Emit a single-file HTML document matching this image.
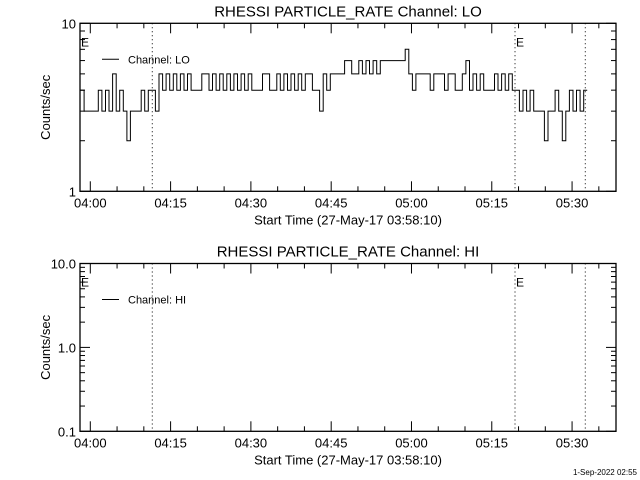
<!DOCTYPE html>
<html><head><meta charset="utf-8"><style>
html,body{margin:0;padding:0;background:#fff;}
svg{display:block;font-family:"Liberation Sans",sans-serif;}
</style></head><body>
<svg id="chart" width="640" height="480" viewBox="0 0 640 480" xmlns="http://www.w3.org/2000/svg">
<rect width="640" height="480" fill="#fff"/>
</svg>
<script>
// data: LO channel counts/sec, sampled every 40 s from start 03:58:10
const loValues = [4,3,3,3,3,4,3,4,3,5,3,4,3,2,3,3,3,4,3,4,4,3,5,4,5,4,5,4,5,4,5,4,4,4,5,5,4,5,4,5,4,5,4,5,4,5,4,5,4,4,4,5,5,4,4,5,4,5,4,5,4,5,4,5,5,4,4,3,5,4,5,5,5,5,6,6,5,5,6,5,6,5,6,5,6,6,6,6,6,6,6,7,5,4,5,5,5,5,4,5,5,5,4,5,5,4,4,5,6,4,5,4,5,4,4,4,5,4,5,4,5,4,4,3,4,3,4,3,3,3,2,3,3,4,3,2,3,4,3,4,3,4];
const sampleStepMin = 40/60;
const startMin = -1.8333; // minutes relative to 04:00
const xTickLabels = ["04:00","04:15","04:30","04:45","05:00","05:15","05:30"];
const xTickMinutes = [0,15,30,45,60,75,90];
const eventLines = [11.58, 79.34, 92.47]; // minutes after 04:00
const topYTicks = ["1","10"];
const botYTicks = ["0.1","1.0","10.0"];

const NS="http://www.w3.org/2000/svg";
const svg=document.getElementById('chart');
const X0=80, X1=616, pxPerMin=5.353, xOrigin=90.3;
function xs(m){return xOrigin+pxPerMin*m;}
function el(tag,attrs,parent){const e=document.createElementNS(NS,tag);for(const k in attrs)e.setAttribute(k,attrs[k]);(parent||svg).appendChild(e);return e;}
function txt(s,x,y,attrs,parent){const t=el('text',Object.assign({x:x,y:y,'font-size':13,fill:'#000'},attrs||{}),parent);t.textContent=s;return t;}

function panel(top,bottom,decMin,decMax,yLabels,title,legend,name,values){
  const g=el('g',{});
  
  
  const ys=v=>bottom-(Math.log10(v)-decMin)/(decMax-decMin)*(bottom-top);
  const frame=el('rect',{x:X0,y:top,width:X1-X0,height:bottom-top,fill:'none',stroke:'#000','stroke-width':1.3},g);
  
  
  for(let d=decMin;d<=decMax;d++){
    for(let k=1;k<=9;k++){
      const v=k*Math.pow(10,d); const lv=Math.log10(v);
      if(lv>decMax+1e-9) break;
      const y=ys(v); const len=(k===1)?10:5;
      el('line',{x1:X0,y1:y,x2:X0+len,y2:y,stroke:'#000'},g);
      el('line',{x1:X1,y1:y,x2:X1-len,y2:y,stroke:'#000'},g);
    }
  }
  yLabels.forEach((s,i)=>{
    const t=txt(s,X0-4,ys(Math.pow(10,decMin+i))+5,{'text-anchor':'end'},g);
    
    
  });
  for(let m=0;m<=100;m+=5){
    const x=xs(m); if(x>X1) break;
    const len=(m%15===0)?10:5;
    el('line',{x1:x,y1:bottom,x2:x,y2:bottom-len,stroke:'#000'},g);
    el('line',{x1:x,y1:top,x2:x,y2:top+len,stroke:'#000'},g);
  }
  xTickLabels.forEach((s,i)=>{
    const t=txt(s,xs(xTickMinutes[i]),bottom+16,{'text-anchor':'middle'},g);
    
    
  });
  const xt=txt('Start Time (27-May-17 03:58:10)',348,bottom+33,{'text-anchor':'middle'},g);
  
  
  const yt=txt('Counts/sec',0,0,{'text-anchor':'middle',transform:`translate(50,${(top+bottom)/2}) rotate(-90)`},g);
  
  
  const tt=txt(title,348,top-7,{'text-anchor':'middle','font-size':15},g);
  
  
  eventLines.forEach(m=>{
    const l=el('line',{x1:xs(m),y1:top,x2:xs(m),y2:bottom,stroke:'#000','stroke-dasharray':'1,3'},g);
    
    
  });
  [X0+1,xs(eventLines[1])+1].forEach(x=>{
    const e=txt('E',x,top+23,{'font-size':12},g);
    
    
  });
  const lg=el('g',{},g);
  
  
  el('line',{x1:102,y1:top+36,x2:119,y2:top+36,stroke:'#000'},lg);
  txt(legend,128,top+40,{'font-size':11},lg);
  if(values){
    let d='';
    values.forEach((v,i)=>{
      const x=xs(startMin+i*sampleStepMin), y=ys(v);
      if(i===0) d+='M'+x.toFixed(1)+','+y.toFixed(1)+' ';
      else d+='V'+y.toFixed(1)+' ';
      d+='H'+(x+pxPerMin*sampleStepMin).toFixed(1)+' ';
    });
    const p=el('path',{d:d,fill:'none',stroke:'#000','stroke-width':1},g);
    
    
  }
}
panel(23.3,191.3,0,1,topYTicks,'RHESSI PARTICLE_RATE Channel: LO','Channel: LO','lo',loValues);
panel(263.5,431.3,-1,1,botYTicks,'RHESSI PARTICLE_RATE Channel: HI','Channel: HI','hi',null);
const ft=txt('1-Sep-2022 02:55',637,475,{'text-anchor':'end','font-size':8});


</script>
</body></html>
